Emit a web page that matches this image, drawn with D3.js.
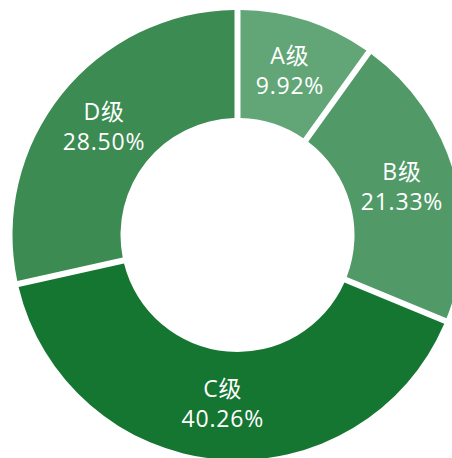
<!DOCTYPE html>
<html>
<head>
<meta charset="utf-8">
<script src="https://cdn.jsdelivr.net/npm/d3@7"></script>
<style>
  body { margin: 0; background: #fff; }
  text { font-family: "Open Sans", "Noto Sans CJK SC", sans-serif; }
</style>
</head>
<body>
<div id="chart"></div>
<script>
const grades = ['A级', 'B级', 'C级', 'D级']
const shares = [9.92, 21.33, 40.26, 28.50]
const colors = ['#62a677', '#519a67', '#157631', '#3b8b52']

const width = 452,
  height = 458
const cx = 237.5,
  cy = 235
const outerR = 225,
  innerR = 117

const svg = d3.select('#chart')
              .append('svg')
              .attr('width', width)
              .attr('height', height)

const g = svg.append('g')
             .attr('transform', 'translate(' + cx + ',' + cy + ')')

const pie = d3.pie()
              .sort(null)
              .value((d) => d)

const arc = d3.arc()
              .innerRadius(innerR)
              .outerRadius(outerR)
              .padAngle(6 / outerR)
              .padRadius(outerR)

const labelArc = d3.arc()
                   .innerRadius((innerR + outerR) / 2)
                   .outerRadius((innerR + outerR) / 2)

const arcs = pie(shares)

g.selectAll('path')
 .data(arcs)
 .enter()
 .append('path')
 .attr('d', arc)
 .attr('fill', (d, i) => colors[i])

const labels = g.selectAll('text.lbl')
                .data(arcs)
                .enter()
                .append('text')
                .attr('class', 'lbl')
                .attr('transform', (d) => 'translate(' + labelArc.centroid(d) + ')')
                .attr('text-anchor', 'middle')
                .attr('fill', '#fff')
                .attr('font-size', '23px')
                .attr('letter-spacing', '0.8px')

labels.append('tspan')
      .attr('x', 0)
      .attr('y', -8)
      .text((d, i) => grades[i])

labels.append('tspan')
      .attr('x', 0)
      .attr('y', 22)
      .text((d) => d.data.toFixed(2) + '%')
</script>
</body>
</html>
